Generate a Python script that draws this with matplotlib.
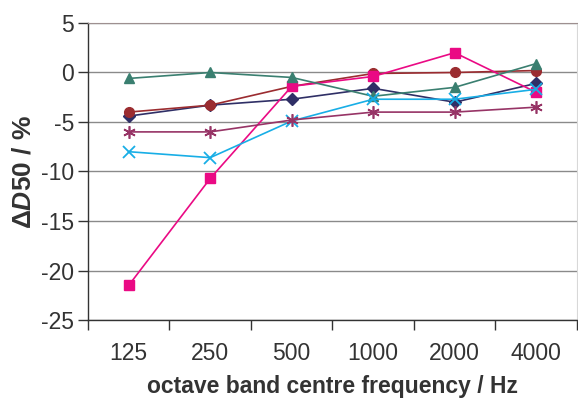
import matplotlib
matplotlib.use("Agg")
import matplotlib.pyplot as plt

# --------------------------
# Data
# --------------------------
bands = ["125", "250", "500", "1000", "2000", "4000"]

navy_diamond = [-4.4, -3.3, -2.7, -1.6, -3.0, -1.1]
red_circle = [-4.0, -3.3, -1.4, -0.1, 0.0, 0.2]
pink_square = [-21.5, -10.7, -1.4, -0.4, 2.0, -2.0]
green_triangle = [-0.6, 0.0, -0.5, -2.4, -1.5, 0.9]
cyan_cross = [-8.0, -8.6, -4.9, -2.7, -2.7, -1.7]
purple_star = [-6.0, -6.0, -4.8, -4.0, -4.0, -3.5]

yticks = [5, 0, -5, -10, -15, -20, -25]

# --------------------------
# Style
# --------------------------
plt.rcParams["font.family"] = "Liberation Sans"
plt.rcParams["axes.unicode_minus"] = False
plt.rcParams["mathtext.fontset"] = "custom"
plt.rcParams["mathtext.it"] = "Liberation Sans:italic:bold"
plt.rcParams["mathtext.rm"] = "Liberation Sans:bold"

txt = "#333333"

fig = plt.figure(figsize=(5.78, 4.0), dpi=100)
ax = fig.add_axes([0.1522, 0.2, 0.8460, 0.7425])

x = list(range(len(bands)))

ax.plot(x, navy_diamond, color="#2F2F66", marker="D", ms=6, lw=1.2)
ax.plot(x, red_circle, color="#9B2C30", marker="o", ms=7, lw=1.2)
ax.plot(x, pink_square, color="#EA0A84", marker="s", ms=6.5, lw=1.2)
ax.plot(x, green_triangle, color="#3A7F70", marker="^", ms=7.5, lw=1.2)
ax.plot(x, cyan_cross, color="#18AEE6", marker="x", ms=8, mew=1.3, lw=1.2)
ax.plot(x, purple_star, color="#973466", marker=(6, 2, 0), ms=9, mew=1.2, lw=1.2)

ax.set_xlim(-0.5, len(bands) - 0.5)
ax.set_ylim(-25, 5)
ax.set_yticks(yticks)
ax.set_xticks(x)
ax.set_xticklabels(bands)
ax.set_xticks([i - 0.5 for i in range(len(bands) + 1)], minor=True)

ax.grid(axis="y", color="#8a8a8a", lw=1.0)
ax.set_axisbelow(True)

for side in ["left", "bottom"]:
    ax.spines[side].set_color("#333333")
    ax.spines[side].set_linewidth(1.0)
ax.spines["top"].set_color("#9e9090")
ax.spines["right"].set_color("#d8d8d8")

ax.tick_params(axis="x", which="major", length=0, pad=16, labelsize=16.5, labelcolor=txt)
ax.tick_params(axis="x", which="minor", length=7, width=1.0, color="#333333", direction="out")
ax.tick_params(axis="y", length=7, width=1.0, color="#333333", labelsize=16.5, labelcolor=txt, pad=3)

ax.set_xlabel("octave band centre frequency / Hz", fontsize=16.5, fontweight="bold", color=txt, labelpad=7)
ax.set_ylabel("Δ" + r"$\mathit{D50}$ / %", fontsize=19, fontweight="bold", color=txt, labelpad=4)

plt.savefig("out.png", dpi=100)
plt.close()
